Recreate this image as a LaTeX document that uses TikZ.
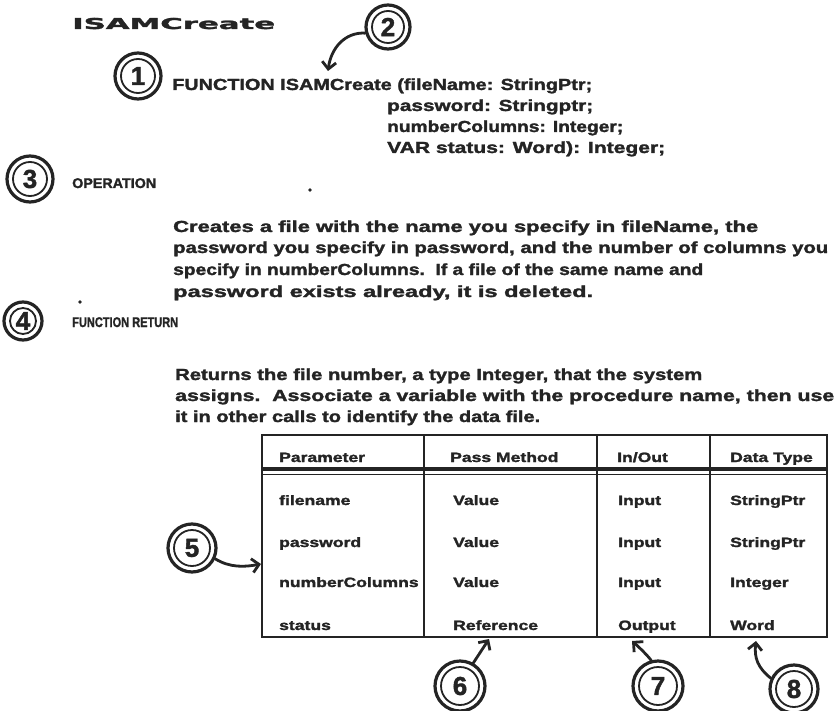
\documentclass[tikz,border=0pt]{standalone}
\usepackage{fontspec}
\usepackage{graphicx}
\usetikzlibrary{arrows.meta}
\setmainfont{Liberation Sans}
\newfontfamily\heavyfont{Liberation Sans}[BoldFeatures={FakeBold=1.6}]
\newfontfamily\titlefont{DejaVu Sans}[BoldFeatures={FakeBold=1.6}]
\definecolor{ink}{RGB}{36,36,36}

% stretch a line of text horizontally to a given width (in pt)
\newcommand\linefit[2]{\resizebox{#1pt}{\height}{#2}}
% numbered call-out: name, position, radius, numeral
\newcommand\callmark[4]{%
  \node[marker, minimum size={2*#3pt}] (#1) at (#2) {#4};
  \draw[ink, line width=1.8pt] (#1.center) circle[radius={#3pt-6pt}];}

\begin{document}
\begin{tikzpicture}[x=1pt, y=-1pt,
  txt/.style={anchor=base west, inner sep=0pt, text=ink,
              font=\heavyfont\bfseries\fontsize{16}{16}\selectfont},
  head/.style={txt, font=\heavyfont\bfseries\fontsize{14}{14}\selectfont},
  cell/.style={txt, font=\heavyfont\bfseries\fontsize{13.5}{13.5}\selectfont},
  marker/.style={circle, draw=ink, line width=3.2pt, inner sep=0pt, text=ink,
                 font=\heavyfont\bfseries\fontsize{26}{26}\selectfont},
  callout/.style={draw=ink, line width=2.8pt, line cap=round,
                  -{Straight Barb[length=7pt, width=14pt, line width=2.8pt]}},
  rule/.style={draw=ink, line width=2.6pt}]

\useasboundingbox[fill=white] (0,0) rectangle (837,711);

% heading
\node[anchor=base west, inner sep=0pt, text=ink,
      font={\titlefont\bfseries\fontsize{15}{15}\selectfont}] (title)
      at (72,29) {\linefit{203}{ISAMCreate}};

% declaration
\node[txt] (fn1) at (172,90)  {\linefit{420}{FUNCTION ISAMCreate (fileName: StringPtr;}};
\node[txt] (fn2) at (387,111) {\linefit{206}{password: Stringptr;}};
\node[txt] (fn3) at (387,132) {\linefit{236}{numberColumns: Integer;}};
\node[txt] (fn4) at (387,153) {\linefit{278}{VAR status: Word): Integer;}};

% operation
\node[head] (ophead) at (72,188) {\linefit{84}{OPERATION}};
\node[txt] (op1) at (173,232) {\linefit{585}{Creates a file with the name you specify in fileName, the}};
\node[txt] (op2) at (173,253) {\linefit{655}{password you specify in password, and the number of columns you}};
\node[txt] (op3) at (173,275) {\linefit{530}{specify in numberColumns.\ \ If a file of the same name and}};
\node[txt] (op4) at (173,297) {\linefit{420}{password exists already, it is deleted.}};

% function return
\node[head] (rethead) at (72,327) {\linefit{106}{FUNCTION RETURN}};
\node[txt] (rt1) at (175,380) {\linefit{527}{Returns the file number, a type Integer, that the system}};
\node[txt] (rt2) at (175,401) {\linefit{659}{assigns.\ \ Associate a variable with the procedure name, then use}};
\node[txt] (rt3) at (175,422) {\linefit{365}{it in other calls to identify the data file.}};

% parameter table
\draw[rule] (262,435) rectangle (827,637);
\foreach \cx in {424,597,710} \draw[rule] (\cx,435) -- (\cx,637);
\draw[draw=ink, line width=3.2pt] (262,469) -- (827,469);
\draw[draw=ink, line width=0.8pt] (262,474.5) -- (827,474.5);

\node[cell] (h1) at (279,462) {\scalebox{1.3}[1]{Parameter}};
\node[cell] (h2) at (450,462) {\scalebox{1.3}[1]{Pass Method}};
\node[cell] (h3) at (617,462) {\scalebox{1.3}[1]{In/Out}};
\node[cell] (h4) at (730,462) {\scalebox{1.3}[1]{Data Type}};

\node[cell] (a1) at (279,505) {\scalebox{1.3}[1]{filename}};
\node[cell] (b1) at (453,505) {\scalebox{1.3}[1]{Value}};
\node[cell] (c1) at (618,505) {\scalebox{1.3}[1]{Input}};
\node[cell] (d1) at (730,505) {\scalebox{1.3}[1]{StringPtr}};

\node[cell] (a2) at (279,547) {\scalebox{1.3}[1]{password}};
\node[cell] (b2) at (453,547) {\scalebox{1.3}[1]{Value}};
\node[cell] (c2) at (618,547) {\scalebox{1.3}[1]{Input}};
\node[cell] (d2) at (730,547) {\scalebox{1.3}[1]{StringPtr}};

\node[cell] (a3) at (279,587) {\scalebox{1.3}[1]{numberColumns}};
\node[cell] (b3) at (453,587) {\scalebox{1.3}[1]{Value}};
\node[cell] (c3) at (618,587) {\scalebox{1.3}[1]{Input}};
\node[cell] (d3) at (730,587) {\scalebox{1.3}[1]{Integer}};

\node[cell] (a4) at (279,630) {\scalebox{1.3}[1]{status}};
\node[cell] (b4) at (453,630) {\scalebox{1.3}[1]{Reference}};
\node[cell] (c4) at (618,630) {\scalebox{1.3}[1]{Output}};
\node[cell] (d4) at (730,630) {\scalebox{1.3}[1]{Word}};

% numbered call-outs
\callmark{m1}{138,76}{23}{1}
\callmark{m2}{388,27}{22}{2}
\callmark{m3}{30,179}{23}{3}
\callmark{m4}{23,321}{19}{4}
\callmark{m5}{192,548}{24}{5}
\callmark{m6}{460,686}{25}{6}
\callmark{m7}{658,686}{25}{7}
\callmark{m8}{794,689}{24}{8}

% call-out targets
\coordinate (t2) at (328,71);
\coordinate (t5) at (261,564);
\coordinate (t6) at (489,639);
\coordinate (t7) at (632,641);
\coordinate (t8) at (756,641);

\draw[callout] (m2.195) .. controls (345,32) and (331,48) .. (t2);
\draw[callout] (m5.-25) .. controls (230,568) and (245,567) .. (t5);
\draw[callout] (m6.60) -- (t6);
\draw[callout] (m7.105) .. controls (648,656) and (640,648) .. (t7);
\draw[callout] (m8.155) .. controls (758,668) and (754,658) .. (t8);

% specks of ink
\fill[ink] (310,190) circle[radius=1.8pt];
\fill[ink] (80,302) circle[radius=1.8pt];
\end{tikzpicture}
\end{document}
